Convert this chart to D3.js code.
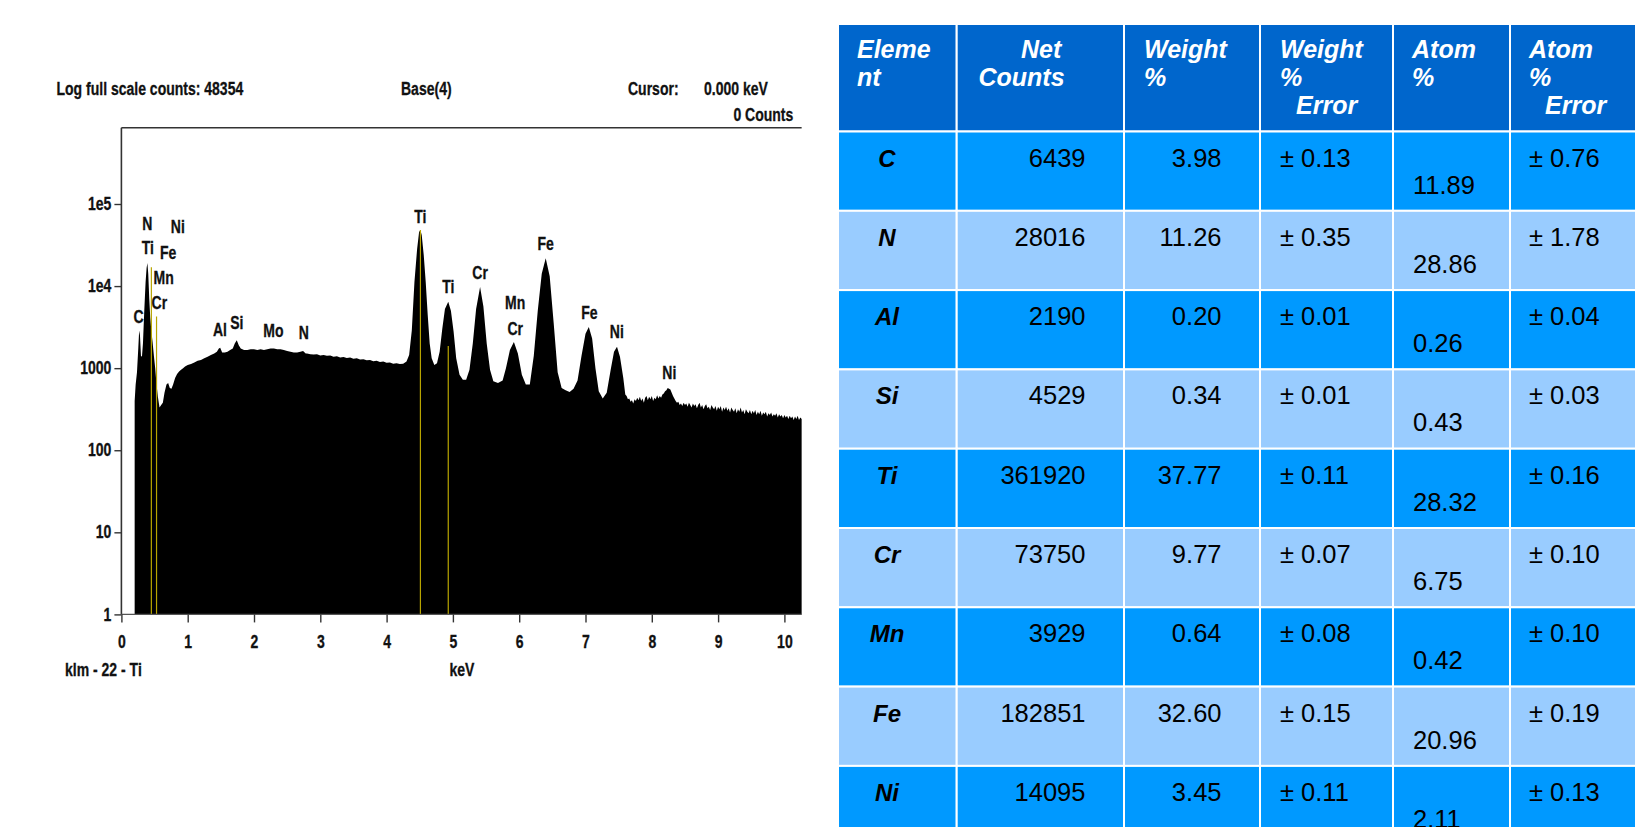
<!DOCTYPE html>
<html>
<head>
<meta charset="utf-8">
<script src="https://cdn.jsdelivr.net/npm/d3@7"></script>
<style>
  body { margin: 0; background: #fff; }
  svg { display: block; }
  .spec text { font-family: "Liberation Sans", Arial, sans-serif; font-weight: bold; font-size: 17.5px; fill: #111; stroke: #111; stroke-width: 0.3px; }
  .tbl text { font-family: "Liberation Sans", Arial, sans-serif; }
</style>
</head>
<body>
<svg id="root" width="1641" height="827"></svg>
<script>
// ---- EDS spectrum (energy in keV, counts per channel) ----
const spectrum = [
  [0.200, 398], [0.215, 631], [0.235, 891], [0.255, 1778], [0.268, 2884], [0.280, 2512],
  [0.295, 1413], [0.310, 1380], [0.325, 1995], [0.345, 5012], [0.365, 11220], [0.380, 16596],
  [0.392, 19055], [0.405, 14125], [0.420, 7079], [0.435, 4169], [0.452, 2818], [0.470, 2089],
  [0.490, 1413], [0.510, 1000], [0.530, 631], [0.550, 447], [0.575, 331], [0.600, 355],
  [0.625, 380], [0.650, 501], [0.680, 631], [0.705, 661], [0.730, 575], [0.755, 562],
  [0.780, 631], [0.810, 759], [0.840, 851], [0.870, 912], [0.900, 955], [0.930, 1000],
  [0.960, 1047], [1.000, 1096], [1.050, 1122], [1.100, 1175], [1.150, 1230], [1.200, 1259],
  [1.250, 1318], [1.300, 1380], [1.350, 1445], [1.400, 1514], [1.440, 1585], [1.470, 1738],
  [1.490, 1778], [1.520, 1549], [1.560, 1549], [1.600, 1585], [1.640, 1660], [1.680, 1738],
  [1.710, 1995], [1.740, 2188], [1.770, 1905], [1.800, 1738], [1.850, 1660], [1.900, 1660],
  [1.950, 1698], [2.000, 1698], [2.050, 1660], [2.100, 1698], [2.150, 1660], [2.200, 1698],
  [2.250, 1738], [2.300, 1738], [2.350, 1698], [2.400, 1698], [2.450, 1660], [2.500, 1622],
  [2.550, 1585], [2.600, 1549], [2.650, 1549], [2.700, 1585], [2.740, 1622], [2.780, 1514],
  [2.800, 1514], [2.850, 1479], [2.900, 1462], [2.950, 1479], [3.000, 1429], [3.050, 1445],
  [3.100, 1413], [3.150, 1429], [3.200, 1380], [3.250, 1396], [3.300, 1349], [3.350, 1365],
  [3.400, 1334], [3.450, 1349], [3.500, 1303], [3.550, 1318], [3.600, 1274], [3.650, 1288],
  [3.700, 1245], [3.750, 1259], [3.800, 1216], [3.850, 1230], [3.900, 1189], [3.950, 1202],
  [4.000, 1161], [4.050, 1175], [4.100, 1135], [4.150, 1148], [4.200, 1122], [4.250, 1135],
  [4.300, 1202], [4.340, 1445], [4.380, 2884], [4.420, 11220], [4.460, 28184], [4.490, 45709],
  [4.510, 48354], [4.530, 41687], [4.560, 23988], [4.590, 11220], [4.620, 4467], [4.650, 1995],
  [4.680, 1318], [4.720, 1096], [4.760, 1148], [4.800, 1585], [4.840, 3020], [4.880, 5248],
  [4.930, 6457], [4.970, 5012], [5.010, 2818], [5.050, 1318], [5.100, 832], [5.150, 724],
  [5.200, 724], [5.250, 955], [5.300, 1995], [5.350, 5248], [5.410, 9772], [5.460, 5623],
  [5.510, 1995], [5.560, 955], [5.610, 692], [5.680, 661], [5.750, 708], [5.800, 1000],
  [5.860, 1660], [5.920, 2089], [5.980, 1514], [6.040, 832], [6.100, 631], [6.160, 631],
  [6.220, 1413], [6.280, 5012], [6.340, 14125], [6.400, 21878], [6.460, 13183], [6.520, 3548],
  [6.580, 891], [6.640, 575], [6.700, 537], [6.760, 513], [6.820, 562], [6.880, 708],
  [6.940, 1413], [7.000, 2630], [7.050, 3162], [7.100, 2291], [7.150, 1000], [7.200, 525],
  [7.260, 427], [7.320, 501], [7.380, 955], [7.430, 1585], [7.475, 1820], [7.520, 1380],
  [7.570, 759], [7.600, 479], [7.620, 457], [7.640, 417], [7.660, 427], [7.680, 389],
  [7.700, 407], [7.720, 372], [7.740, 417], [7.760, 398], [7.780, 437], [7.800, 407],
  [7.820, 447], [7.840, 398], [7.860, 427], [7.880, 380], [7.900, 437], [7.920, 457],
  [7.940, 407], [7.960, 447], [7.980, 417], [8.000, 457], [8.020, 398], [8.040, 437],
  [8.060, 417], [8.080, 468], [8.100, 427], [8.120, 457], [8.140, 437], [8.160, 479],
  [8.180, 490], [8.200, 525], [8.220, 537], [8.240, 575], [8.260, 562], [8.280, 550],
  [8.300, 501], [8.320, 457], [8.340, 427], [8.360, 398], [8.380, 380], [8.400, 389],
  [8.420, 355], [8.440, 372], [8.460, 347], [8.480, 380], [8.500, 355], [8.520, 372],
  [8.540, 339], [8.560, 380], [8.580, 355], [8.600, 331], [8.620, 372], [8.640, 347],
  [8.660, 363], [8.680, 324], [8.700, 355], [8.720, 380], [8.740, 331], [8.760, 355],
  [8.780, 316], [8.800, 347], [8.820, 363], [8.840, 324], [8.860, 339], [8.880, 309],
  [8.900, 355], [8.920, 331], [8.940, 316], [8.960, 347], [8.980, 302], [9.000, 339],
  [9.020, 316], [9.040, 347], [9.060, 295], [9.080, 331], [9.100, 309], [9.120, 339],
  [9.140, 302], [9.160, 324], [9.180, 288], [9.200, 331], [9.220, 309], [9.240, 295],
  [9.260, 324], [9.280, 282], [9.300, 316], [9.320, 295], [9.340, 331], [9.360, 288],
  [9.380, 309], [9.400, 275], [9.420, 316], [9.440, 295], [9.460, 282], [9.480, 309],
  [9.500, 275], [9.520, 302], [9.540, 282], [9.560, 309], [9.580, 269], [9.600, 295],
  [9.620, 275], [9.640, 302], [9.660, 263], [9.680, 288], [9.700, 275], [9.720, 295],
  [9.740, 257], [9.760, 282], [9.780, 269], [9.800, 288], [9.820, 257], [9.840, 275],
  [9.860, 263], [9.880, 282], [9.900, 251], [9.920, 275], [9.940, 257], [9.960, 269],
  [9.980, 245], [10.000, 269], [10.020, 251], [10.040, 263], [10.060, 240], [10.080, 263],
  [10.100, 245], [10.120, 257], [10.140, 234], [10.160, 257], [10.180, 240], [10.200, 263],
  [10.220, 234], [10.240, 251], [10.260, 240]
];

const fullScaleCounts = 48354;
const xTicks = [0, 1, 2, 3, 4, 5, 6, 7, 8, 9, 10];
const yTicks = [1, 10, 100, 1000, 1e4, 1e5];
const yTickLabels = ["1", "10", "100", "1000", "1e4", "1e5"];

// KLM marker lines: energy (keV) and marker height (counts)
const markerEnergy = [0.452, 0.530, 4.510, 4.930];
const markerHeight = [16982, 4266, 48354, 1862];

// Peak identification labels: element, energy (keV), label level (counts)
const peakElement = ["N", "Ti", "Ni", "Fe", "Mn", "Cr", "C", "Al", "Si", "Mo", "N",
                     "Ti", "Ti", "Cr", "Mn", "Cr", "Fe", "Fe", "Ni", "Ni"];
const peakEnergy  = [0.392, 0.398, 0.851, 0.705, 0.637, 0.573, 0.258, 1.486, 1.740, 2.293, 2.750,
                     4.510, 4.930, 5.410, 5.940, 5.940, 6.400, 7.058, 7.472, 8.265];
const peakLevel   = [47600, 24300, 43900, 21500, 10500, 5200, 3570, 2460, 2970, 2410, 2240,
                     59000, 8280, 12100, 5200, 2510, 27400, 3930, 2340, 731];

// ---- quantification table ----
const elements  = ["C", "N", "Al", "Si", "Ti", "Cr", "Mn", "Fe", "Ni"];
const netCounts = [6439, 28016, 2190, 4529, 361920, 73750, 3929, 182851, 14095];
const weightPct = [3.98, 11.26, 0.20, 0.34, 37.77, 9.77, 0.64, 32.60, 3.45];
const weightErr = [0.13, 0.35, 0.01, 0.01, 0.11, 0.07, 0.08, 0.15, 0.11];
const atomPct   = [11.89, 28.86, 0.26, 0.43, 28.32, 6.75, 0.42, 20.96, 2.11];
const atomErr   = [0.76, 1.78, 0.04, 0.03, 0.16, 0.10, 0.10, 0.19, 0.13];
const headerLines = [["Eleme", "nt"], ["Net", "Counts"], ["Weight", "%"],
                     ["Weight", "%", "Error"], ["Atom", "%"], ["Atom", "%", "Error"]];

const svg = d3.select("#root");

// =================== spectrum panel ===================
const xMaxKeV = 10.26;
const x = d3.scaleLinear().domain([0, 10]).range([121.4, 784.4]);
const y = d3.scaleLog().domain([1, 1e5]).range([614.4, 204]);
const frameTop = 127.7;

const spec = svg.append("g").attr("class", "spec");

// filled spectrum
spec.append("path")
  .datum(spectrum)
  .attr("fill", "#000")
  .attr("d", d3.area().x(d => x(d[0])).y0(y(1)).y1(d => y(d[1])));

// marker lines
spec.append("g").selectAll("line")
  .data(markerEnergy.map((e, i) => [e, markerHeight[i]]))
  .join("line")
  .attr("x1", d => x(d[0])).attr("x2", d => x(d[0]))
  .attr("y1", y(1)).attr("y2", d => y(d[1]))
  .attr("stroke", "#b8a400").attr("stroke-width", 1.2);

// frame: top edge, left edge and baseline
spec.append("line")
  .attr("x1", x(0)).attr("x2", x(xMaxKeV)).attr("y1", frameTop).attr("y2", frameTop)
  .attr("stroke", "#333").attr("stroke-width", 1.6);
spec.append("line")
  .attr("x1", x(0)).attr("x2", x(0)).attr("y1", frameTop).attr("y2", y(1))
  .attr("stroke", "#333").attr("stroke-width", 1.6);
spec.append("line")
  .attr("x1", x(0)).attr("x2", x(xMaxKeV)).attr("y1", y(1)).attr("y2", y(1))
  .attr("stroke", "#555").attr("stroke-width", 1.4);

// axes
const yAxis = spec.append("g")
  .attr("transform", `translate(${x(0)},0)`)
  .call(d3.axisLeft(y).tickValues(yTicks).tickSize(7).tickPadding(3)
    .tickFormat((d, i) => yTickLabels[i]));
const xAxis = spec.append("g")
  .attr("transform", `translate(0,${y(1)})`)
  .call(d3.axisBottom(x).tickValues(xTicks).tickSize(8).tickPadding(13)
    .tickFormat(d3.format("d")));
[yAxis, xAxis].forEach(g => {
  g.select(".domain").remove();
  g.selectAll(".tick line").attr("stroke", "#333").attr("stroke-width", 1.4);
  g.selectAll(".tick text").attr("fill", "#111")
    .style("font-size", "17.5px").style("font-weight", "bold")
    .style("font-family", '"Liberation Sans", Arial, sans-serif');
});

// peak labels
spec.append("g").selectAll("text")
  .data(peakElement.map((el, i) => ({ el, e: peakEnergy[i], c: peakLevel[i] })))
  .join("text")
  .attr("x", d => x(d.e))
  .attr("y", d => y(d.c))
  .attr("text-anchor", "middle")
  .text(d => d.el);

// header and footer texts
spec.append("text").attr("x", 56.5).attr("y", 95).text(`Log full scale counts: ${fullScaleCounts}`);
spec.append("text").attr("x", 401).attr("y", 95).text("Base(4)");
spec.append("text").attr("x", 628).attr("y", 95).text("Cursor:");
spec.append("text").attr("x", 704).attr("y", 95).text("0.000 keV");
spec.append("text").attr("x", 793.3).attr("y", 121).attr("text-anchor", "end").text("0 Counts");
spec.append("text").attr("x", 65).attr("y", 676).text("klm - 22 - Ti");
spec.append("text").attr("x", 462).attr("y", 676).attr("text-anchor", "middle").text("keV");

// narrow the spectrum lettering (condensed instrument font)
spec.selectAll("text").each(function () {
  const w = this.getComputedTextLength();
  d3.select(this).attr("textLength", w * 0.8).attr("lengthAdjust", "spacingAndGlyphs");
});

// =================== quantification table ===================
const colEdges = [838, 956.7, 1124, 1260, 1393, 1510, 1636];
const tableTop = 24, headerH = 107.5, rowH = 79.3;
const headColor = "#0066cc", rowColors = ["#0099ff", "#99ccff"];

const tbl = svg.append("g").attr("class", "tbl");

// header cells
tbl.append("g").selectAll("rect")
  .data(headerLines)
  .join("rect")
  .attr("x", (d, i) => colEdges[i]).attr("y", tableTop)
  .attr("width", (d, i) => colEdges[i + 1] - colEdges[i]).attr("height", headerH)
  .attr("fill", headColor).attr("stroke", "#fff").attr("stroke-width", 2);

// header text: left offset of each line within its column
const headerX = [[857, 857], [1021, 978.5], [1144, 1144], [1280, 1280, 1296],
                 [1412, 1412], [1529, 1529, 1545]];
const headerBase = [57.5, 85.5, 113.5];
headerLines.forEach((lines, ci) => {
  lines.forEach((t, li) => {
    tbl.append("text")
      .attr("x", headerX[ci][li]).attr("y", headerBase[li])
      .attr("fill", "#fff").style("font-size", "25px")
      .style("font-weight", "bold").style("font-style", "italic")
      .text(t);
  });
});

// body rows
const rows = elements.map((el, i) => ({
  el, net: netCounts[i], wt: weightPct[i], wtErr: weightErr[i], at: atomPct[i], atErr: atomErr[i], i
}));
const rowTop = i => tableTop + headerH + i * rowH;

const rowG = tbl.append("g").selectAll("g").data(rows).join("g")
  .attr("transform", d => `translate(0,${rowTop(d.i)})`);

rowG.selectAll("rect")
  .data(d => d3.range(6).map(c => ({ c, i: d.i })))
  .join("rect")
  .attr("x", d => colEdges[d.c]).attr("y", 0)
  .attr("width", d => colEdges[d.c + 1] - colEdges[d.c]).attr("height", rowH)
  .attr("fill", d => rowColors[d.i % 2]).attr("stroke", "#fff").attr("stroke-width", 2);

const line1 = 35, line2 = 62;
const f2 = d3.format(".2f");
rowG.append("text").attr("x", 887).attr("y", line1).attr("text-anchor", "middle")
  .style("font-size", "24px").style("font-weight", "bold").style("font-style", "italic")
  .attr("fill", "#000").text(d => d.el);
rowG.append("text").attr("x", 1085.5).attr("y", line1).attr("text-anchor", "end")
  .style("font-size", "25.5px").attr("fill", "#000").text(d => d.net);
rowG.append("text").attr("x", 1221.5).attr("y", line1).attr("text-anchor", "end")
  .style("font-size", "25.5px").attr("fill", "#000").text(d => f2(d.wt));
rowG.append("text").attr("x", 1280).attr("y", line1)
  .style("font-size", "25.5px").attr("fill", "#000").text(d => "± " + f2(d.wtErr));
rowG.append("text").attr("x", 1413).attr("y", line2)
  .style("font-size", "25.5px").attr("fill", "#000").text(d => f2(d.at));
rowG.append("text").attr("x", 1529).attr("y", line1)
  .style("font-size", "25.5px").attr("fill", "#000").text(d => "± " + f2(d.atErr));
</script>
</body>
</html>
